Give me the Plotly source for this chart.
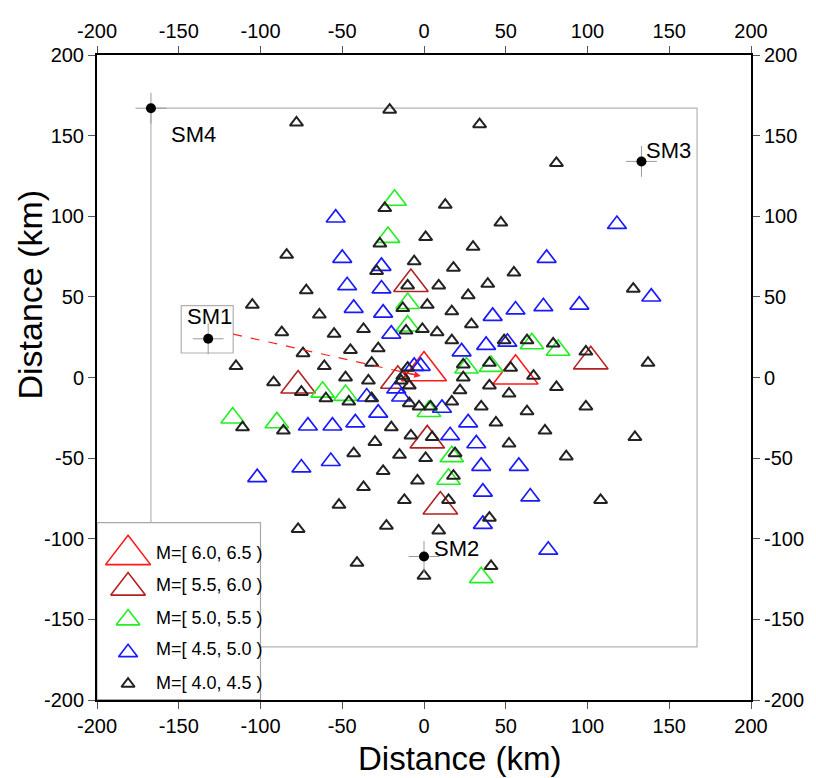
import plotly.graph_objects as go

# ---------------- data (km) ----------------
black_x = [-78, -21, -24, 34, 81, 13, -27, 1, -84, -29, -6, -10, -72, -105, -13, -64, 2, -87, -55, -37,
           -11, -1, -74, -45, -28, -115, -61, -32, -92, -48, -34, -75, -60, -46, -32, -9, -3, 4, -111, -86,
           -20, -8, 5, -30, -43, -15, 1, -25, -4, -37, -52, -12, 15, -77, -23, -41, 9, 40, 0, 41,
           47, 30, 18, 55, 9, 39, 27, 128, 17, 29, 8, 17, 49, 63, 79, 99, 137, 24, 40, 53,
           67, 24, 22, 40, 81, 52, 17, 35, 63, 99, 44, 74, 129, 52, 19, 87, 18, 108, -13, -14, -9, -10]
black_y = [158, 166, 105, 157, 133, 107, 83, 87, 76, 66, 72, 57, 54, 45, 43, 39, 45, 28, 27, 30,
           29, 30, 15, 17, 18, 7, 7, 9, -3, 0, -2, -9, -13, -15, -13, -16, -18, -18, -31, -33,
           -31, -36, -37, -40, -47, -48, -50, -58, -64, -68, -79, -76, -76, -94, -92, -115, -95, -87, -123, -117,
           96, 81, 68, 65, 57, 58, 51, 55, 41, 33, 28, 23, 23, 23, 21, 16, 9, 8, 9, 6,
           1, 0, -8, -5, -6, -10, -15, -18, -21, -18, -28, -33, -37, -41, -47, -49, -61, -76, 1, -2, -5, 6]

blue_x = [-54, 118, -50, -26, -47, -26, -43, -25, -20, -6, -2, 75, 139, 42, 56, 73, 95, 38, 51, 23,
          -35, -17, -14, -28, -42, -56, -71, -57, -75, -102, 11, 27, 16, 32, 35, 58, 36, 65, 36, 76]
blue_y = [99, 95, 74, 69, 57, 55, 43, 40, 27, 7, 7, 74, 50, 38, 42, 44, 45, 20, 22, 16,
          -12, -7, -12, -22, -28, -30, -30, -52, -56, -62, -19, -28, -36, -41, -55, -55, -71, -74, -91, -107]

green_x = [-18, -22, -10, -10, -62, -48, -117, -90, 3, 17, 15, 35, 66, 82, 26, 41]
green_y = [110, 87, 46, 32, -9, -11, -25, -28, -21, -49, -63, -124, 21, 17, 6, 7]

darkred_x = [-8, -77, -16, 2, 10, 102]
darkred_y = [58, -5, -2, -39, -80, 10]

red_x = [0, 56]
red_y = [4, 2]

station_names = ["SM1", "SM2", "SM3", "SM4"]
station_x = [-132, 0, 133, -167]
station_y = [24, -111, 134, 167]

class_labels = ["M=[ 6.0, 6.5 )", "M=[ 5.5, 6.0 )", "M=[ 5.0, 5.5 )", "M=[ 4.5, 5.0 )", "M=[ 4.0, 4.5 )"]

tick_vals = [-200, -150, -100, -50, 0, 50, 100, 150, 200]
tick_text = ["-200", "-150", "-100", "-50", "0", "50", "100", "150", "200"]

# ---------------- styles ----------------
FONT = "Liberation Sans"
styles = [  # color, marker size, line width
    ("#ff1a1a", 39, 1.6),
    ("#b22222", 30, 1.6),
    ("#22ee22", 20.5, 1.6),
    ("#1a1aff", 16.5, 1.7),
    ("#222222", 11.5, 2.0),
]
series = [(red_x, red_y), (darkred_x, darkred_y), (green_x, green_y), (blue_x, blue_y), (black_x, black_y)]

fig = go.Figure()

for (xs, ys), (col, sz, lw), lab in zip(series, styles, class_labels):
    fig.add_trace(go.Scatter(
        x=xs, y=ys, mode="markers", name=lab, showlegend=False, hoverinfo="skip",
        marker=dict(symbol="triangle-up-open", size=sz, color=col, line=dict(width=lw, color=col)),
    ))

# stations: crosshair + dot
fig.add_trace(go.Scatter(
    x=station_x, y=station_y, mode="markers", showlegend=False, hoverinfo="skip",
    marker=dict(symbol="cross-thin", size=22, line=dict(width=1, color="#9a9a9a")),
))
fig.add_trace(go.Scatter(
    x=station_x, y=station_y, mode="markers", showlegend=False, hoverinfo="skip",
    marker=dict(symbol="circle", size=10, color="black"),
))

# legend symbols (drawn inside the plot like GMT's legend box)
leg_x = -181
leg_sym_y = [-110, -130.3, -150.2, -170.6, -190]
leg_txt_y = [-108.7, -128.6, -148.9, -168.4, -189.6]
for (col, sz, lw), yy in zip(styles, leg_sym_y):
    fig.add_trace(go.Scatter(
        x=[leg_x], y=[yy], mode="markers", showlegend=False, hoverinfo="skip",
        marker=dict(symbol="triangle-up-open", size=sz, color=col, line=dict(width=lw, color=col)),
    ))

# dummy trace for top/right axes
fig.add_trace(go.Scatter(x=[None], y=[None], xaxis="x2", yaxis="y2", showlegend=False, hoverinfo="skip"))

shapes = [
    dict(type="rect", xref="x", yref="y", x0=-167, y0=-167, x1=167, y1=167,
         line=dict(color="#b4b4b4", width=1.2), layer="below"),
    dict(type="rect", xref="x", yref="y", x0=-200, y0=-200, x1=-100, y1=-90,
         fillcolor="white", line=dict(color="#a8a8a8", width=1.2), layer="below"),
    dict(type="rect", xref="x", yref="y", x0=-148.5, y0=15.2, x1=-116.7, y1=44.6,
         fillcolor="white", line=dict(color="#b0b0b0", width=1.2), layer="below"),
    dict(type="line", xref="x", yref="y", x0=-116.7, y0=26.9, x1=-6, y1=1.8,
         line=dict(color="#ff2020", width=1.2, dash="dash"), layer="above"),
    dict(type="line", xref="x", yref="y", x0=-200, y0=-200, x1=-100, y1=-200,
         line=dict(color="#a8a8a8", width=2), layer="above"),
]

annotations = []
for txt, yy in zip(class_labels, leg_txt_y):
    annotations.append(dict(x=-165.3, y=yy, xref="x", yref="y", text=txt, showarrow=False,
                            xanchor="left", yanchor="middle",
                            font=dict(family=FONT, size=18, color="black")))
lab_off = {"SM1": (0.7, 13.7, "center"), "SM2": (4.9, 5.0, "left"),
           "SM3": (1.8, 6.6, "left"), "SM4": (10.8, -16.5, "left")}
for nm, sx, sy in zip(station_names, station_x, station_y):
    dx, dy, anc = lab_off[nm]
    annotations.append(dict(x=sx + dx, y=sy + dy, xref="x", yref="y", text=nm, showarrow=False,
                            xanchor=anc, yanchor="middle",
                            font=dict(family=FONT, size=22, color="black")))
annotations.append(dict(x=-2, y=1, ax=-14, ay=3.6, xref="x", yref="y", axref="x", ayref="y",
                        text="", showarrow=True, arrowhead=2, arrowsize=1, arrowwidth=1.3,
                        arrowcolor="#ff2020"))
annotations.append(dict(x=0.555, y=-0.091, xref="paper", yref="paper", text="Distance (km)",
                        showarrow=False, xanchor="center", yanchor="middle",
                        font=dict(family=FONT, size=33, color="black")))
annotations.append(dict(x=-0.102, y=0.629, xref="paper", yref="paper", text="Distance (km)",
                        showarrow=False, xanchor="center", yanchor="middle", textangle=-90,
                        font=dict(family=FONT, size=34, color="black")))

axis_common = dict(range=[-200, 200], tickmode="array", tickvals=tick_vals, ticktext=tick_text,
                   ticks="outside", ticklen=7, tickwidth=1, tickcolor="#555555",
                   showline=True, linecolor="black", linewidth=2, showgrid=False, zeroline=False,
                   tickfont=dict(family=FONT, size=20, color="black"), fixedrange=True)

# page body has an 8px margin: figure is 808x770 so the plot lands where the reference has it
fig.update_layout(
    width=808, height=770, autosize=False,
    margin=dict(l=89, r=61, t=35, b=78, pad=0),
    paper_bgcolor="white", plot_bgcolor="white", showlegend=False,
    xaxis=dict(**axis_common, side="bottom", anchor="y"),
    yaxis=dict(**axis_common, side="left", anchor="x"),
    xaxis2=dict(**axis_common, side="top", overlaying="x", anchor="y2"),
    yaxis2=dict(**axis_common, side="right", overlaying="y", anchor="x2"),
    shapes=shapes, annotations=annotations,
)

fig.write_html("out.html")
